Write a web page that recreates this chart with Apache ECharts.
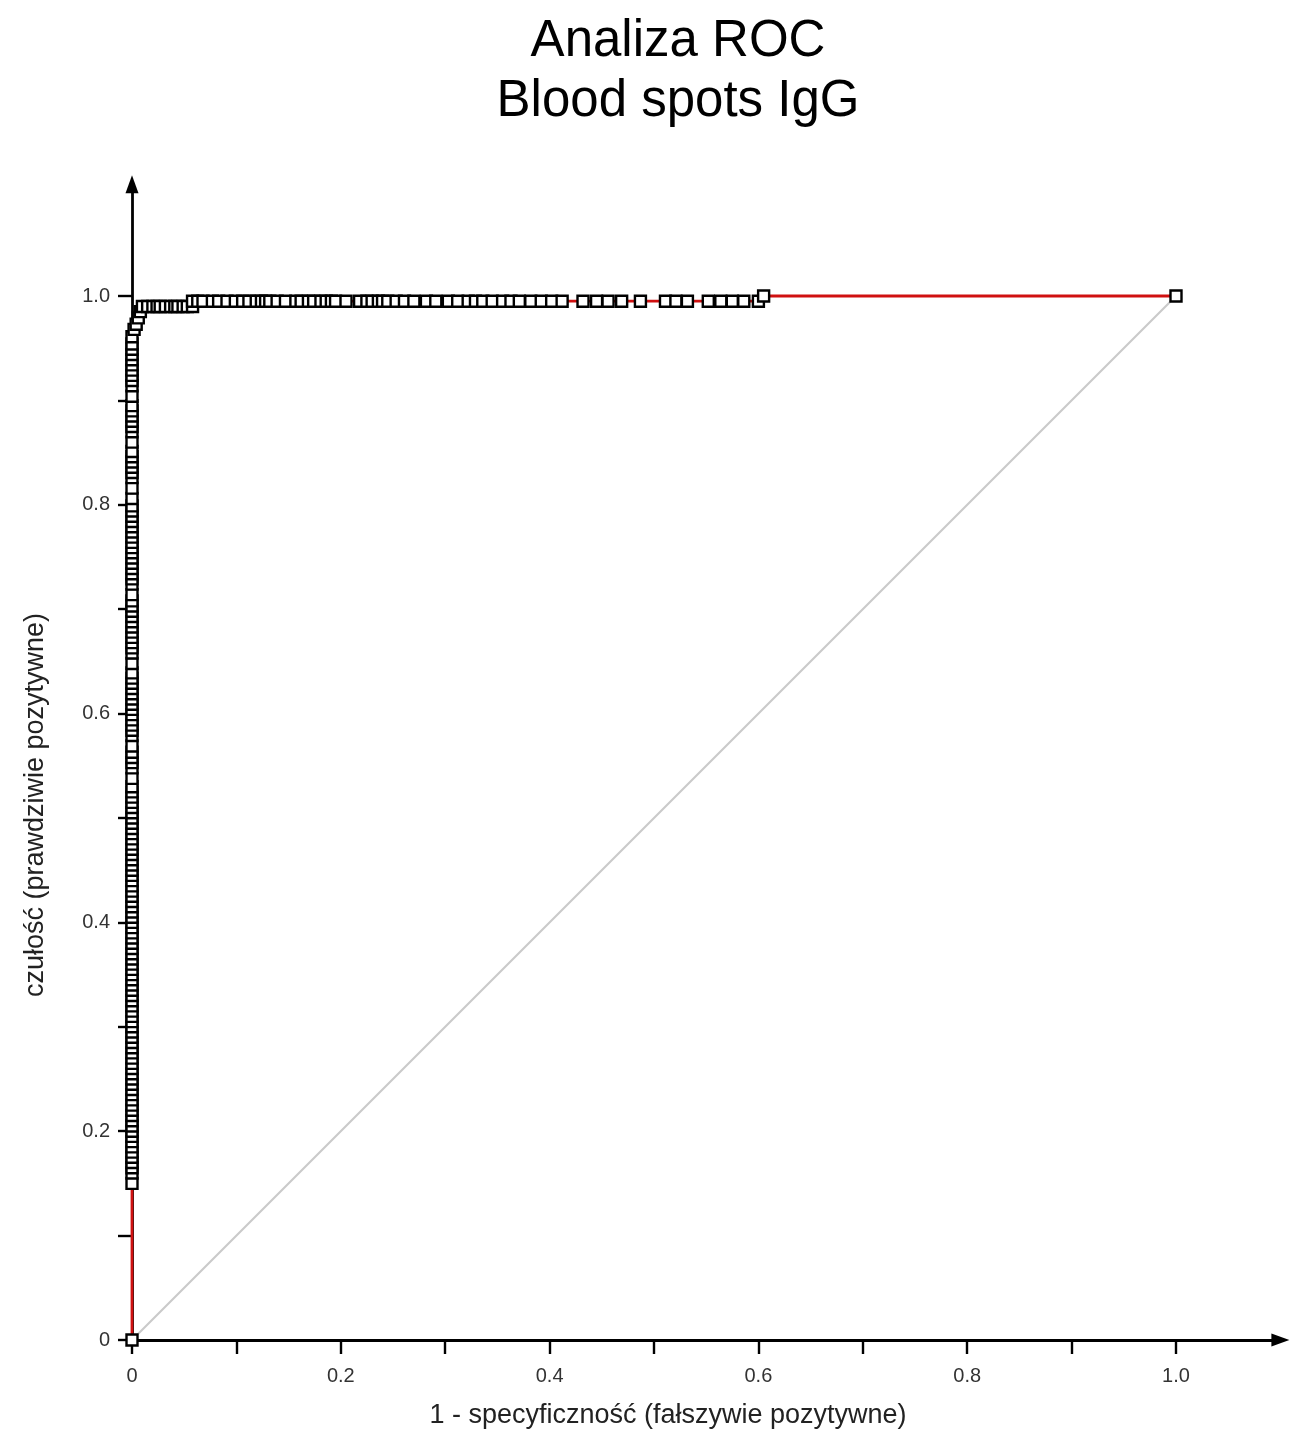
<!DOCTYPE html>
<html>
<head>
<meta charset="utf-8">
<script src="https://cdn.jsdelivr.net/npm/echarts@6/dist/echarts.min.js"></script>
<style>
html,body{margin:0;padding:0;background:#fff;}
#chart{width:1292px;height:1431px;}
</style>
</head>
<body>
<div id="chart"></div>
<script>
// ---- data ----
const titleText = "Analiza ROC\nBlood spots IgG";
const xName = "1 - specyficzność (fałszywie pozytywne)";
const yName = "czułość (prawdziwie pozytywne)";
const tickVals = [0, 0.1, 0.2, 0.3, 0.4, 0.5, 0.6, 0.7, 0.8, 0.9, 1.0];
const labelVals = [0, 0.2, 0.4, 0.6, 0.8, 1.0];

// ROC start point
const startPt = [0, 0];
// vertical run of points at 1-spec = 0 (sensitivity values)
const colY = [
0.150, 0.160, 0.165, 0.170, 0.175, 0.180, 0.185, 0.190, 0.195,
0.200, 0.205, 0.210, 0.215, 0.220, 0.225, 0.230, 0.235, 0.240, 0.245,
0.250, 0.255, 0.260, 0.265, 0.270, 0.275, 0.280, 0.285, 0.290, 0.295,
0.300, 0.305, 0.310, 0.315, 0.320, 0.325, 0.330, 0.335, 0.340, 0.345,
0.350, 0.355, 0.360, 0.365, 0.370, 0.375, 0.380, 0.385, 0.390, 0.395,
0.400, 0.405, 0.410, 0.415, 0.420, 0.425, 0.430, 0.435, 0.440, 0.445,
0.450, 0.455, 0.460, 0.465, 0.470, 0.475, 0.480, 0.485, 0.490, 0.495,
0.500, 0.505, 0.510, 0.515, 0.520, 0.525, 0.530, 0.538, 0.548, 0.553,
0.558, 0.563, 0.569, 0.579, 0.584, 0.589, 0.594, 0.599, 0.604, 0.609,
0.614, 0.619, 0.624, 0.629, 0.634, 0.639, 0.648, 0.658, 0.663, 0.668,
0.673, 0.678, 0.683, 0.688, 0.693, 0.698, 0.703, 0.708, 0.714, 0.724,
0.729, 0.734, 0.739, 0.744, 0.749, 0.754, 0.759, 0.764, 0.769, 0.774,
0.779, 0.784, 0.789, 0.794, 0.799, 0.806, 0.816, 0.826, 0.831, 0.836,
0.841, 0.846, 0.851, 0.860, 0.870, 0.875, 0.880, 0.885, 0.890, 0.895,
0.904, 0.914, 0.919, 0.924, 0.929, 0.934, 0.939, 0.944, 0.949, 0.954,
0.961
];
// small staircase at the top-left corner
const stairX = [0.002, 0.004, 0.006, 0.008];
const stairY = [0.968, 0.973, 0.979, 0.985];
// flat run at sensitivity 0.99
const row1Y = 0.99;
const row1X = [0.010, 0.015, 0.020, 0.024, 0.027, 0.032, 0.037, 0.041, 0.044, 0.049, 0.053, 0.058];
// flat run at sensitivity 0.995
const row2Y = 0.995;
const row2X = [
0.058, 0.063, 0.068, 0.077, 0.083, 0.091, 0.099, 0.106, 0.112, 0.119,
0.124, 0.128, 0.132, 0.139, 0.147, 0.157, 0.162, 0.169, 0.174, 0.181,
0.186, 0.191, 0.195, 0.205, 0.218, 0.225, 0.230, 0.236, 0.240, 0.245,
0.253, 0.261, 0.270, 0.282, 0.291, 0.303, 0.312, 0.322, 0.329, 0.336,
0.345, 0.355, 0.363, 0.371, 0.382, 0.392, 0.402, 0.412, 0.432, 0.445,
0.456, 0.469, 0.487, 0.511, 0.521, 0.532, 0.552, 0.564, 0.575, 0.586,
0.600
];
// last points
const endPts = [[0.605, 1.0], [1.0, 1.0]];
// reference diagonal
const diag = [[0, 0], [1, 1]];

// ---- build ----
const roc = [startPt]
  .concat(colY.map(y => [0, y]))
  .concat(stairX.map((x, i) => [x, stairY[i]]))
  .concat(row1X.map(x => [x, row1Y]))
  .concat(row2X.map(x => [x, row2Y]))
  .concat(endPts);

const FONT = "'Liberation Sans', Arial, sans-serif";
const PX = 1044;            // pixels per unit
const X0 = 132, Y0 = 1340;  // origin in pixels
const xMax = 1.1, yMax = 1.107;

function fmt(v) { return v === 0 ? '0' : v.toFixed(1); }

function axisCommon(max) {
  return {
    type: 'value', min: 0, max: max,
    axisLine: { show: true, onZero: true, symbol: ['none', 'triangle'], symbolSize: [13, 18],
      lineStyle: { color: '#000', width: 2.8 } },
    axisTick: { show: true, customValues: tickVals, length: 14, inside: false,
      lineStyle: { color: '#000', width: 2.4 } },
    axisLabel: { customValues: labelVals, formatter: fmt, fontFamily: FONT, fontSize: 20, color: '#333' },
    splitLine: { show: false }
  };
}

const chart = echarts.init(document.getElementById('chart'), null, { renderer: 'canvas' });
const xa = axisCommon(xMax); xa.axisLabel.margin = 26;
const ya = axisCommon(yMax); ya.axisLabel.margin = 22;

chart.setOption({
  animation: false,
  backgroundColor: '#fff',
  grid: { left: X0, top: Y0 - yMax * PX, width: xMax * PX, height: yMax * PX, containLabel: false },
  xAxis: xa,
  yAxis: ya,
  graphic: [
    { type: 'text', z: 10, position: [678, 12],
      style: { text: titleText, fill: '#000', font: '51px ' + FONT, align: 'center', lineHeight: 60 } },
    { type: 'text', z: 10, position: [668, 1416],
      style: { text: xName, fill: '#222', font: '27px ' + FONT, align: 'center', verticalAlign: 'middle' } },
    { type: 'text', z: 10, position: [36, 805], rotation: Math.PI / 2,
      style: { text: yName, fill: '#222', font: '27px ' + FONT, align: 'center', verticalAlign: 'middle' } }
  ],
  series: [
    { type: 'line', data: diag, showSymbol: false, silent: true, z: 1,
      lineStyle: { color: '#cacaca', width: 2.2 } },
    { type: 'line', data: roc, symbol: 'rect', symbolSize: 11, showAllSymbol: true, silent: true, z: 2,
      itemStyle: { color: '#fff', borderColor: '#000', borderWidth: 2.4 },
      lineStyle: { color: '#d01010', width: 2.8 },
      emphasis: { disabled: true } }
  ]
});
</script>
</body>
</html>
